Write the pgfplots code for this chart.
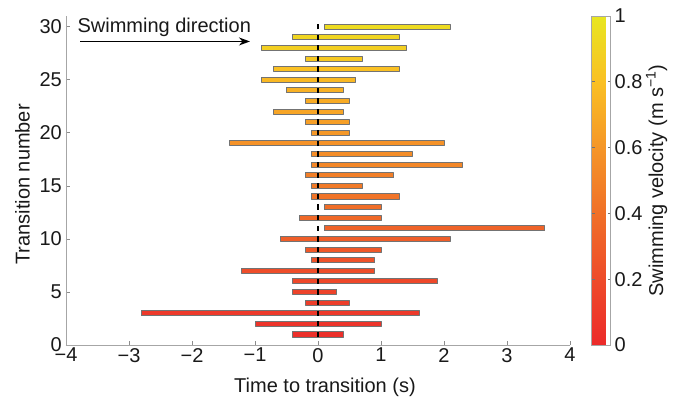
\documentclass[border=0pt]{standalone}
\usepackage{fontspec}
\setmainfont{Liberation Sans}
\usepackage{pgfplots}
\pgfplotsset{compat=1.18}
\usetikzlibrary{arrows.meta}
\begin{document}
\fontsize{20}{24}\selectfont
\begin{tikzpicture}
\path[use as bounding box] (-66pt,-53pt) rectangle (612pt,345pt);
\begin{axis}[
  at={(0,0)}, anchor=south west,
  scale only axis, width=504pt, height=329pt,
  xmin=-4, xmax=4, ymin=0, ymax=31,
  axis x line*=bottom, axis y line*=left,
  axis line style={-, draw=black!35, line width=0.8pt},
  tick align=inside, major tick length=4pt,
  tick style={draw=black!45, line width=0.6pt},
  xtick={-4,-3,-2,-1,0,1,2,3,4},
  xticklabels={−4,−3,−2,−1,0,1,2,3,4},
  ytick={0,5,10,15,20,25,30},
  /pgf/number format/assume math mode=true,
  xticklabel style={inner sep=3pt, text=black!90},
  yticklabel style={inner xsep=4pt, text=black!90},
  xlabel={Time to transition (s)},
  ylabel={Transition number},
  xlabel style={at={(axis description cs:0.5,0)}, anchor=center, yshift=-42pt, xshift=7pt, text=black!90},
  ylabel style={at={(axis description cs:0,0.5)}, anchor=center, xshift=-4pt, yshift=43.5pt, text=black!90},
  colormap={vel}{rgb255(0cm)=(236,42,42) rgb255(2cm)=(238,75,42) rgb255(4cm)=(240,112,40) rgb255(6cm)=(245,150,40) rgb255(8cm)=(250,192,35) rgb255(10cm)=(232,230,32)},
  point meta min=0, point meta max=1,
  colorbar,
  colorbar style={
    at={(parent axis.north east)}, anchor=north west, xshift=13pt,
    scale only axis, width=19pt, height=329pt,
    axis line style={draw=black!35, line width=0.8pt},
    ytick={0,0.2,0.4,0.6,0.8,1},
    yticklabels={0,0.2,0.4,0.6,0.8,1},
    ytick pos=both, yticklabel pos=right,
    tick align=inside, major tick length=3pt,
    tick style={draw=black!55, line width=0.6pt},
    yticklabel style={inner xsep=4pt, text=black!90},
    xtick=\empty,
    ylabel={Swimming velocity (m s\textsuperscript{−1})},
    ylabel style={at={(axis description cs:1,0.5)}, anchor=center, yshift=-46pt, text=black!90},
  },
]
\addplot[patch, patch type=rectangle, shader=faceted, faceted color=black!55, line width=0.8pt, point meta=explicit] table[x=x, y=y, meta=v] {
x y v
-0.40 0.76 0.03
0.40 0.76 0.03
0.40 1.24 0.03
-0.40 1.24 0.03
-1.00 1.76 0.06
1.00 1.76 0.06
1.00 2.24 0.06
-1.00 2.24 0.06
-2.81 2.76 0.09
1.61 2.76 0.09
1.61 3.24 0.09
-2.81 3.24 0.09
-0.20 3.76 0.12
0.50 3.76 0.12
0.50 4.24 0.12
-0.20 4.24 0.12
-0.40 4.76 0.15
0.30 4.76 0.15
0.30 5.24 0.15
-0.40 5.24 0.15
-0.40 5.76 0.18
1.90 5.76 0.18
1.90 6.24 0.18
-0.40 6.24 0.18
-1.21 6.76 0.21
0.90 6.76 0.21
0.90 7.24 0.21
-1.21 7.24 0.21
-0.10 7.76 0.24
0.90 7.76 0.24
0.90 8.24 0.24
-0.10 8.24 0.24
-0.20 8.76 0.27
1.00 8.76 0.27
1.00 9.24 0.27
-0.20 9.24 0.27
-0.60 9.76 0.30
2.10 9.76 0.30
2.10 10.24 0.30
-0.60 10.24 0.30
0.10 10.76 0.33
3.60 10.76 0.33
3.60 11.24 0.33
0.10 11.24 0.33
-0.30 11.76 0.36
1.00 11.76 0.36
1.00 12.24 0.36
-0.30 12.24 0.36
0.10 12.76 0.39
1.00 12.76 0.39
1.00 13.24 0.39
0.10 13.24 0.39
-0.10 13.76 0.42
1.30 13.76 0.42
1.30 14.24 0.42
-0.10 14.24 0.42
-0.10 14.76 0.45
0.70 14.76 0.45
0.70 15.24 0.45
-0.10 15.24 0.45
-0.20 15.76 0.48
1.20 15.76 0.48
1.20 16.24 0.48
-0.20 16.24 0.48
-0.10 16.76 0.52
2.30 16.76 0.52
2.30 17.24 0.52
-0.10 17.24 0.52
-0.10 17.76 0.55
1.50 17.76 0.55
1.50 18.24 0.55
-0.10 18.24 0.55
-1.40 18.76 0.58
2.00 18.76 0.58
2.00 19.24 0.58
-1.40 19.24 0.58
-0.10 19.76 0.61
0.50 19.76 0.61
0.50 20.24 0.61
-0.10 20.24 0.61
-0.20 20.76 0.64
0.50 20.76 0.64
0.50 21.24 0.64
-0.20 21.24 0.64
-0.70 21.76 0.67
0.40 21.76 0.67
0.40 22.24 0.67
-0.70 22.24 0.67
-0.20 22.76 0.70
0.50 22.76 0.70
0.50 23.24 0.70
-0.20 23.24 0.70
-0.50 23.76 0.73
0.40 23.76 0.73
0.40 24.24 0.73
-0.50 24.24 0.73
-0.90 24.76 0.76
0.60 24.76 0.76
0.60 25.24 0.76
-0.90 25.24 0.76
-0.70 25.76 0.80
1.30 25.76 0.80
1.30 26.24 0.80
-0.70 26.24 0.80
-0.20 26.76 0.84
0.70 26.76 0.84
0.70 27.24 0.84
-0.20 27.24 0.84
-0.90 27.76 0.88
1.40 27.76 0.88
1.40 28.24 0.88
-0.90 28.24 0.88
-0.40 28.76 0.91
1.30 28.76 0.91
1.30 29.24 0.91
-0.40 29.24 0.91
0.10 29.76 0.94
2.10 29.76 0.94
2.10 30.24 0.94
0.10 30.24 0.94
};
\addplot[black, line width=2pt, dash pattern=on 5.3pt off 5.313pt] coordinates {(0,0.75) (0,30.25)};
\node[anchor=base west, inner sep=0pt, text=black!90] at (axis cs:-3.82,29.4) {Swimming direction};
\draw[-{Stealth[length=11pt,width=8pt]}, line width=1.4pt, black] (axis cs:-3.77,28.6) -- (axis cs:-1.08,28.6);
\end{axis}
\end{tikzpicture}
\end{document}
